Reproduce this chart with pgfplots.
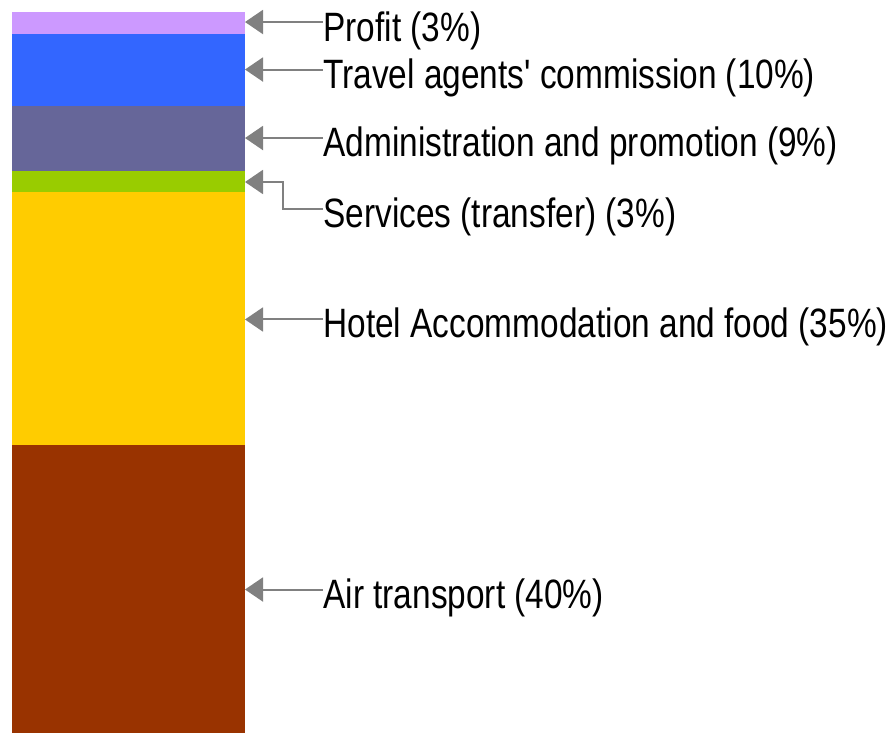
\documentclass[border=0pt]{standalone}
\usepackage{pgfplots}
\pgfplotsset{compat=1.18}
\usepackage{fontspec}
\setmainfont{Liberation Sans}[FakeStretch=0.815, Ligatures=TeXReset]
\usetikzlibrary{arrows.meta}
\definecolor{cProfit}{HTML}{CC99FF}
\definecolor{cTravel}{HTML}{3366FF}
\definecolor{cAdmin}{HTML}{666699}
\definecolor{cServ}{HTML}{99CC00}
\definecolor{cHotel}{HTML}{FFCC00}
\definecolor{cAir}{HTML}{993300}
\definecolor{cArrow}{HTML}{808080}
\begin{document}
\begin{tikzpicture}
\begin{axis}[
  scale only axis, width=448pt, height=366.5pt,
  xmin=0, xmax=896, ymin=0, ymax=101.664,
  hide axis, clip=false,
  ybar stacked, bar width=233, bar shift=0pt,
  every axis plot/.append style={draw=none},
]
\addplot[fill=cAir] coordinates {(128.5,40)};
\addplot[fill=cHotel] coordinates {(128.5,35)};
\addplot[fill=cServ] coordinates {(128.5,3)};
\addplot[fill=cAdmin] coordinates {(128.5,9)};
\addplot[fill=cTravel] coordinates {(128.5,10)};
\addplot[fill=cProfit] coordinates {(128.5,3)};
\path (axis cs:0,0) (axis cs:896,101.664);
\tikzset{lab/.style={anchor=base west, inner sep=0pt, font=\fontsize{20.5pt}{24pt}\selectfont},
         arr/.style={draw=cArrow, line width=1pt, {Triangle[length=9pt,width=12pt]}-}}
\draw[arr] (axis cs:245,98.61) -- (axis cs:323,98.61);
\draw[arr] (axis cs:245,92.02) -- (axis cs:323,92.02);
\draw[arr] (axis cs:245,82.52) -- (axis cs:323,82.52);
\draw[arr] (axis cs:245,76.42) -- (axis cs:283,76.42) -- (axis cs:283,72.68) -- (axis cs:323,72.68);
\draw[arr] (axis cs:245,57.35) -- (axis cs:323,57.35);
\draw[arr] (axis cs:245,19.90) -- (axis cs:323,19.90);
\node[lab] at (axis cs:323,95.9) {Profit (3\%)};
\node[lab] at (axis cs:323,89.32) {Travel agents' commission (10\%)};
\node[lab] at (axis cs:323,79.89) {Administration and promotion (9\%)};
\node[lab] at (axis cs:323,70.04) {Services (transfer) (3\%)};
\node[lab] at (axis cs:323,54.79) {Hotel Accommodation and food (35\%)};
\node[lab] at (axis cs:323,17.20) {Air transport (40\%)};
\end{axis}
\end{tikzpicture}
\end{document}
